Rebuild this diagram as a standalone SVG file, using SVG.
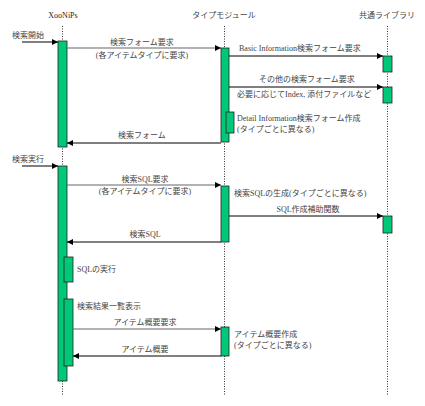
<svg xmlns="http://www.w3.org/2000/svg" width="425" height="406" viewBox="0 0 425 406">
<defs>
<marker id="ah" viewBox="0 0 10 10" refX="10" refY="5" markerWidth="6" markerHeight="6" orient="auto" markerUnits="userSpaceOnUse">
<path d="M0,0 L10,5 L0,10 z" fill="#000"/>
</marker>
<style>
text{font-family:"Liberation Serif","Noto Sans CJK JP",serif;font-size:8px;fill:#444}
.t{fill:#222}
.m{text-anchor:middle}
.life{stroke:#333;stroke-width:1;stroke-dasharray:1,1.5;fill:none}
.act{fill:#00C878;stroke:#222;stroke-width:0.8}
.req{stroke:#666;stroke-width:1.2;fill:none;marker-end:url(#ah)}
.ret{stroke:#000;stroke-width:1;fill:none;marker-end:url(#ah)}
</style>
</defs>
<rect width="425" height="406" fill="#fff"/>
<g id="lifelines">
<line class="life" x1="62.5" y1="26" x2="62.5" y2="396"/>
<line class="life" x1="224.5" y1="26" x2="224.5" y2="396"/>
<line class="life" x1="387.5" y1="26" x2="387.5" y2="396"/>
</g>
<g id="xoonips">
<text class="t m" x="63" y="18">XooNiPs</text>
<rect class="act" x="58" y="41" width="9" height="106"/>
<rect class="act" x="58" y="166" width="9" height="215"/>
<rect class="act" x="64" y="257" width="9" height="25"/>
<rect class="act" x="64" y="299" width="9" height="67"/>
</g>
<g id="typemodule">
<text class="m" x="224" y="18">タイプモジュール</text>
<rect class="act" x="221" y="48" width="8" height="94"/>
<rect class="act" x="226" y="112" width="8" height="21"/>
<rect class="act" x="221" y="186" width="8" height="56"/>
<rect class="act" x="221" y="327" width="8" height="29"/>
</g>
<g id="library">
<text class="m" x="387" y="18">共通ライブラリ</text>
<rect class="act" x="383" y="56" width="9" height="16"/>
<rect class="act" x="383" y="87" width="9" height="16"/>
<rect class="act" x="383" y="216" width="9" height="17"/>
</g>
<g id="connectors">
<line class="ret" x1="22" y1="42" x2="58" y2="42"/>
<line class="req" x1="67" y1="48" x2="221" y2="48"/>
<line class="ret" x1="229" y1="56" x2="383" y2="56"/>
<line class="ret" x1="229" y1="87" x2="383" y2="87"/>
<line class="ret" x1="221" y1="143" x2="67" y2="143"/>
<line class="ret" x1="22" y1="166" x2="58" y2="166"/>
<line class="req" x1="67" y1="185" x2="221" y2="185"/>
<line class="ret" x1="229" y1="216" x2="383" y2="216"/>
<line class="ret" x1="221" y1="242" x2="67" y2="242"/>
<line class="req" x1="73" y1="329" x2="221" y2="329"/>
<line class="ret" x1="221" y1="356" x2="73" y2="356"/>
</g>
<g id="labels">
<text x="12" y="38">検索開始</text>
<text class="m" x="142" y="45">検索フォーム要求</text>
<text class="m" x="142" y="58">(各アイテムタイプに要求)</text>
<text x="239" y="51">Basic Information検索フォーム要求</text>
<text class="m" x="307" y="82">その他の検索フォーム要求</text>
<text x="237" y="97">必要に応じてIndex, 添付ファイルなど</text>
<text x="237" y="121">Detail Information検索フォーム作成</text>
<text x="237" y="132">(タイプごとに異なる)</text>
<text class="m" x="142" y="138">検索フォーム</text>
<text x="12" y="162">検索実行</text>
<text class="m" x="145" y="182">検索SQL要求</text>
<text class="m" x="145" y="194">(各アイテムタイプに要求)</text>
<text x="234" y="196">検索SQLの生成(タイプごとに異なる)</text>
<text class="m" x="308" y="212">SQL作成補助関数</text>
<text class="m" x="145" y="237">検索SQL</text>
<text x="77" y="272">SQLの実行</text>
<text x="77" y="309">検索結果一覧表示</text>
<text class="m" x="145" y="325">アイテム概要要求</text>
<text x="234" y="337">アイテム概要作成</text>
<text x="234" y="348">(タイプごとに異なる)</text>
<text class="m" x="145" y="352">アイテム概要</text>
</g>
</svg>
